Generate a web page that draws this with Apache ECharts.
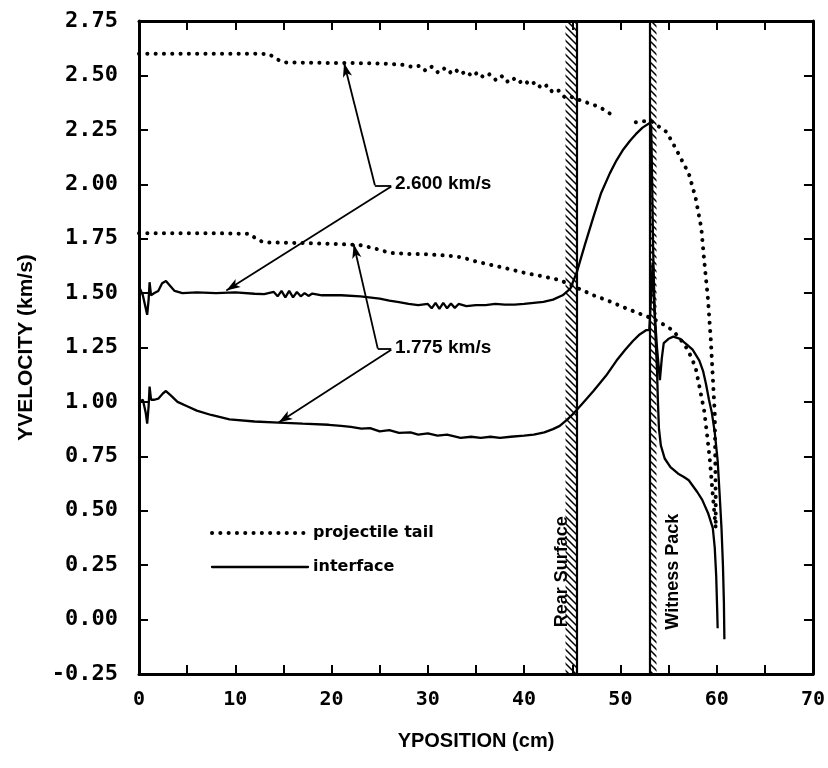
<!DOCTYPE html>
<html><head><meta charset="utf-8">
<script src="https://cdn.jsdelivr.net/npm/echarts@6/dist/echarts.min.js"></script>
<style>html,body{margin:0;padding:0;background:#fff}#c{width:828px;height:768px}</style>
</head><body><div id="c"></div>
<script>
// ---- data (x = YPOSITION cm, y = YVELOCITY km/s) ----
const tailUpperA = [[0,2.60],[3,2.60],[6,2.60],[9,2.60],[12,2.60],[13.5,2.598],[14.3,2.575],[15,2.56],[18,2.558],[21,2.557],[24,2.556],[26,2.553],[27.5,2.548],[28.5,2.538],[29.2,2.545],[29.8,2.52],[30.4,2.54],[31,2.515],[31.6,2.535],[32.2,2.51],[32.8,2.53],[33.4,2.505],[34,2.52],[34.6,2.495],[35.2,2.515],[35.8,2.49],[36.4,2.505],[37,2.48],[37.6,2.50],[38.2,2.47],[38.8,2.49],[39.4,2.465],[40,2.48],[40.6,2.455],[41.2,2.47],[41.8,2.44],[42.4,2.455],[43,2.42],[43.6,2.43],[44.2,2.40],[44.8,2.405],[45.3,2.39],[46,2.385],[46.8,2.37],[47.5,2.36],[48.2,2.345],[48.9,2.325]];
const tailUpperB = [[51.6,2.285],[52.4,2.29],[53.2,2.29],[54,2.265],[54.8,2.24],[55.8,2.16],[56.5,2.10],[57.1,2.05],[57.8,1.94],[58.4,1.80],[58.7,1.65],[59.1,1.47],[59.4,1.28],[59.6,1.11],[59.8,0.95],[59.85,0.75],[59.9,0.55],[59.9,0.42]];
const tailLower = [[0,1.775],[4,1.775],[8,1.775],[11.5,1.772],[12.3,1.745],[13,1.733],[17,1.730],[21,1.725],[23,1.72],[24.5,1.705],[26,1.685],[28,1.68],[30,1.678],[32,1.672],[33.5,1.665],[35,1.645],[36.5,1.63],[38.5,1.61],[40.3,1.59],[41.6,1.58],[43.7,1.56],[45.2,1.53],[47.2,1.49],[49,1.46],[50.6,1.43],[52.3,1.40],[53.5,1.38],[54.7,1.35],[55.4,1.33],[56.2,1.29],[57.0,1.24],[57.8,1.16],[58.3,1.05],[58.7,0.96],[59.0,0.85],[59.3,0.73],[59.6,0.57],[59.9,0.42]];
const interfaceUpper = [[0.1,1.52],[0.4,1.49],[0.7,1.43],[0.85,1.40],[1.0,1.47],[1.1,1.55],[1.25,1.49],[1.6,1.50],[2.0,1.51],[2.4,1.545],[2.8,1.555],[3.2,1.535],[3.7,1.51],[4.5,1.50],[6,1.503],[8,1.50],[10,1.503],[12,1.497],[13,1.495],[14,1.505],[14.4,1.485],[14.8,1.51],[15.2,1.48],[15.6,1.51],[16,1.48],[16.4,1.505],[16.8,1.485],[17.2,1.50],[17.6,1.487],[18,1.498],[19,1.49],[21,1.49],[23,1.485],[25,1.475],[26,1.465],[27,1.458],[28,1.45],[29,1.445],[30,1.45],[30.4,1.43],[30.8,1.455],[31.2,1.428],[31.6,1.455],[32,1.43],[32.4,1.452],[32.8,1.432],[33.2,1.45],[34,1.44],[35,1.445],[36,1.445],[37,1.45],[38,1.447],[39,1.447],[40,1.45],[41,1.455],[42,1.46],[43,1.47],[44,1.49],[44.8,1.52],[45.5,1.60],[46.3,1.72],[47.2,1.85],[48.0,1.96],[48.9,2.05],[49.6,2.11],[50.3,2.16],[51,2.20],[51.6,2.23],[52.3,2.26],[53.0,2.28],[53.2,2.27],[53.3,2.0],[53.4,1.7],[53.6,1.35],[53.8,1.15],[53.9,1.0],[54.0,0.88],[54.2,0.80],[54.6,0.74],[55.2,0.70],[56.0,0.67],[56.6,0.655],[57.1,0.64],[58.0,0.585],[58.5,0.55],[59.1,0.49],[59.6,0.42],[59.8,0.33],[59.95,0.2],[60.05,0.05],[60.1,-0.04]];
const interfaceLower = [[0.1,1.0],[0.4,1.01],[0.7,0.95],[0.85,0.90],[1.0,0.98],[1.1,1.07],[1.25,1.01],[1.6,1.01],[2.0,1.015],[2.5,1.04],[2.8,1.05],[3.3,1.03],[4,1.0],[5,0.98],[6,0.96],[7.5,0.94],[9.4,0.92],[12,0.91],[14.5,0.905],[17,0.90],[19.7,0.895],[21,0.89],[22,0.885],[23.1,0.877],[24,0.88],[25,0.865],[26,0.87],[27,0.858],[28.2,0.86],[29,0.85],[30,0.855],[31,0.845],[32,0.85],[33.4,0.835],[34.5,0.84],[35.5,0.835],[36.5,0.84],[37.5,0.835],[38.6,0.84],[40,0.845],[41,0.85],[42.1,0.86],[43,0.875],[43.7,0.89],[44.5,0.92],[45.2,0.95],[46.2,1.00],[47.2,1.05],[48.5,1.12],[49.6,1.19],[50.5,1.24],[51.3,1.28],[52.0,1.31],[52.7,1.33],[53.0,1.33],[53.2,1.50],[53.35,1.64],[53.5,1.45],[53.8,1.25],[54.1,1.10],[54.3,1.20],[54.5,1.27],[55.0,1.29],[55.5,1.30],[56.2,1.29],[57,1.26],[57.5,1.24],[58.2,1.19],[58.6,1.14],[58.9,1.08],[59.2,1.01],[59.5,0.95],[59.8,0.86],[60.1,0.73],[60.3,0.58],[60.5,0.42],[60.65,0.25],[60.75,0.08],[60.8,-0.09]];

// bands (cm)
const rearBand = [44.3, 45.5];
const witnessBand = [53.1, 53.75];
const bandLabels = [{text:'Rear Surface', at:[43.9, 0.22]}, {text:'Witness Pack', at:[55.5, 0.22]}];

// annotations: [from, to, arrowAtEnd]
const annotLines = [
  [[24.5,1.995],[21.3,2.557],true],
  [[24.5,1.995],[26.2,1.995],false],
  [[26.2,1.99],[9.07,1.512],true],
  [[24.8,1.245],[22.3,1.724],true],
  [[24.8,1.245],[26.2,1.245],false],
  [[26.2,1.24],[14.5,0.905],true]
];
const annotTexts = [{text:'2.600 km/s', at:[26.6,2.0]}, {text:'1.775 km/s', at:[26.6,1.25]}];

const legendNames = ['projectile tail','interface'];

// ---- hatch pattern ----
function hatch(){
  const c=document.createElement('canvas'); c.width=7; c.height=7;
  const g=c.getContext('2d'); g.strokeStyle='#000'; g.lineWidth=1.5; g.lineCap='square';
  g.beginPath(); g.moveTo(0,0); g.lineTo(7,7); g.moveTo(-1,6); g.lineTo(1,8); g.moveTo(6,-1); g.lineTo(8,1); g.stroke();
  return c;
}
const hatchFill = {image: hatch(), repeat:'repeat'};

const dotted = {color:'#000', width:4, type:[0.1,8.2], cap:'round'};
const solid = {color:'#000', width:2.3, type:'solid'};
const tickFont = {fontFamily:'DejaVu Sans Mono', fontWeight:'bold', fontSize:22, color:'#000'};

function lineSeries(name, data, style){
  return {type:'line', name, data, symbol:'none', showSymbol:false, lineStyle:style, itemStyle:{color:'#000'}, z:3, animation:false, silent:true};
}

const chart = echarts.init(document.getElementById('c'));
chart.setOption({
  animation:false,
  backgroundColor:'#fff',
  grid:{left:139, right:10, top:21, bottom:94},
  legend:{data:legendNames, orient:'vertical', left:205, top:520, itemWidth:96, itemHeight:14, itemGap:18,
    itemStyle:{opacity:0, borderWidth:0},
    lineStyle:{width:'inherit', cap:'round'},
    textStyle:{fontFamily:'DejaVu Sans', fontWeight:'bold', fontSize:16, color:'#000'}},
  xAxis:[
    {type:'value', min:0, max:70, interval:5, position:'bottom',
     name:'YPOSITION (cm)', nameLocation:'middle', nameGap:57,
     nameTextStyle:{fontFamily:'Liberation Sans', fontWeight:'bold', fontSize:20, color:'#000'},
     axisLine:{show:true, onZero:false, lineStyle:{color:'#000', width:3}},
     axisTick:{show:true, inside:true, length:9, lineStyle:{color:'#000', width:2}},
     axisLabel:Object.assign({margin:16, formatter:v => (v%10===0 ? String(v) : '')}, tickFont, {fontSize:20}),
     splitLine:{show:false}},
    {type:'value', min:0, max:70, interval:5, position:'top',
     axisLine:{show:true, onZero:false, lineStyle:{color:'#000', width:3}},
     axisTick:{show:true, inside:true, length:9, lineStyle:{color:'#000', width:2}},
     axisLabel:{show:false}, splitLine:{show:false}}
  ],
  yAxis:[
    {type:'value', min:-0.25, max:2.75, interval:0.25, position:'left',
     name:'YVELOCITY (km/s)', nameLocation:'middle', nameGap:102,
     nameTextStyle:{fontFamily:'Liberation Sans', fontWeight:'bold', fontSize:21, color:'#000'},
     axisLine:{show:true, onZero:false, lineStyle:{color:'#000', width:3}},
     axisTick:{show:true, inside:true, length:9, lineStyle:{color:'#000', width:2}},
     axisLabel:Object.assign({margin:21, formatter:v => v.toFixed(2)}, tickFont),
     splitLine:{show:false}},
    {type:'value', min:-0.25, max:2.75, interval:0.25, position:'right',
     axisLine:{show:true, onZero:false, lineStyle:{color:'#000', width:3}},
     axisTick:{show:true, inside:true, length:9, lineStyle:{color:'#000', width:2}},
     axisLabel:{show:false}, splitLine:{show:false}}
  ],
  series:[
    lineSeries('projectile tail', tailUpperA, dotted),
    lineSeries('projectile tail', tailUpperB, dotted),
    lineSeries('projectile tail', tailLower, dotted),
    lineSeries('interface', interfaceUpper, solid),
    lineSeries('interface', interfaceLower, solid),
    {type:'line', name:'bands', data:[], z:2, silent:true,
     markArea:{silent:true, itemStyle:{color:hatchFill, borderWidth:0},
       data:[[{xAxis:rearBand[0]},{xAxis:rearBand[1]}],[{xAxis:witnessBand[0]},{xAxis:witnessBand[1]}]]},
     markLine:{silent:true, symbol:'none', label:{show:false}, lineStyle:{color:'#000', width:2.2, type:'solid'},
       data:[{xAxis:rearBand[1]},{xAxis:witnessBand[0]}]},
     markPoint:{silent:true, symbol:'circle', symbolSize:0,
       label:{show:true, position:'inside', rotate:90, color:'#000', fontFamily:'Liberation Sans', fontWeight:'bold', fontSize:18, formatter:p=>p.name},
       data:bandLabels.map(b=>({name:b.text, coord:b.at}))}
    },
    {type:'line', name:'annot', data:[], z:4, silent:true,
     markLine:{silent:true, symbol:['none','none'], label:{show:false}, lineStyle:{color:'#000', width:1.8, type:'solid'},
       data:annotLines.map(a=>[{coord:a[0], symbol:'none'},{coord:a[1], symbol:a[2]?'arrow':'none', symbolSize:[7,14]}])},
     markPoint:{silent:true, symbol:'circle', symbolSize:0,
       label:{show:true, position:'right', distance:0, color:'#000', fontFamily:'Liberation Sans', fontWeight:'bold', fontSize:19, formatter:p=>p.name},
       data:annotTexts.map(t=>({name:t.text, coord:t.at}))}
    }
  ]
});
</script></body></html>
